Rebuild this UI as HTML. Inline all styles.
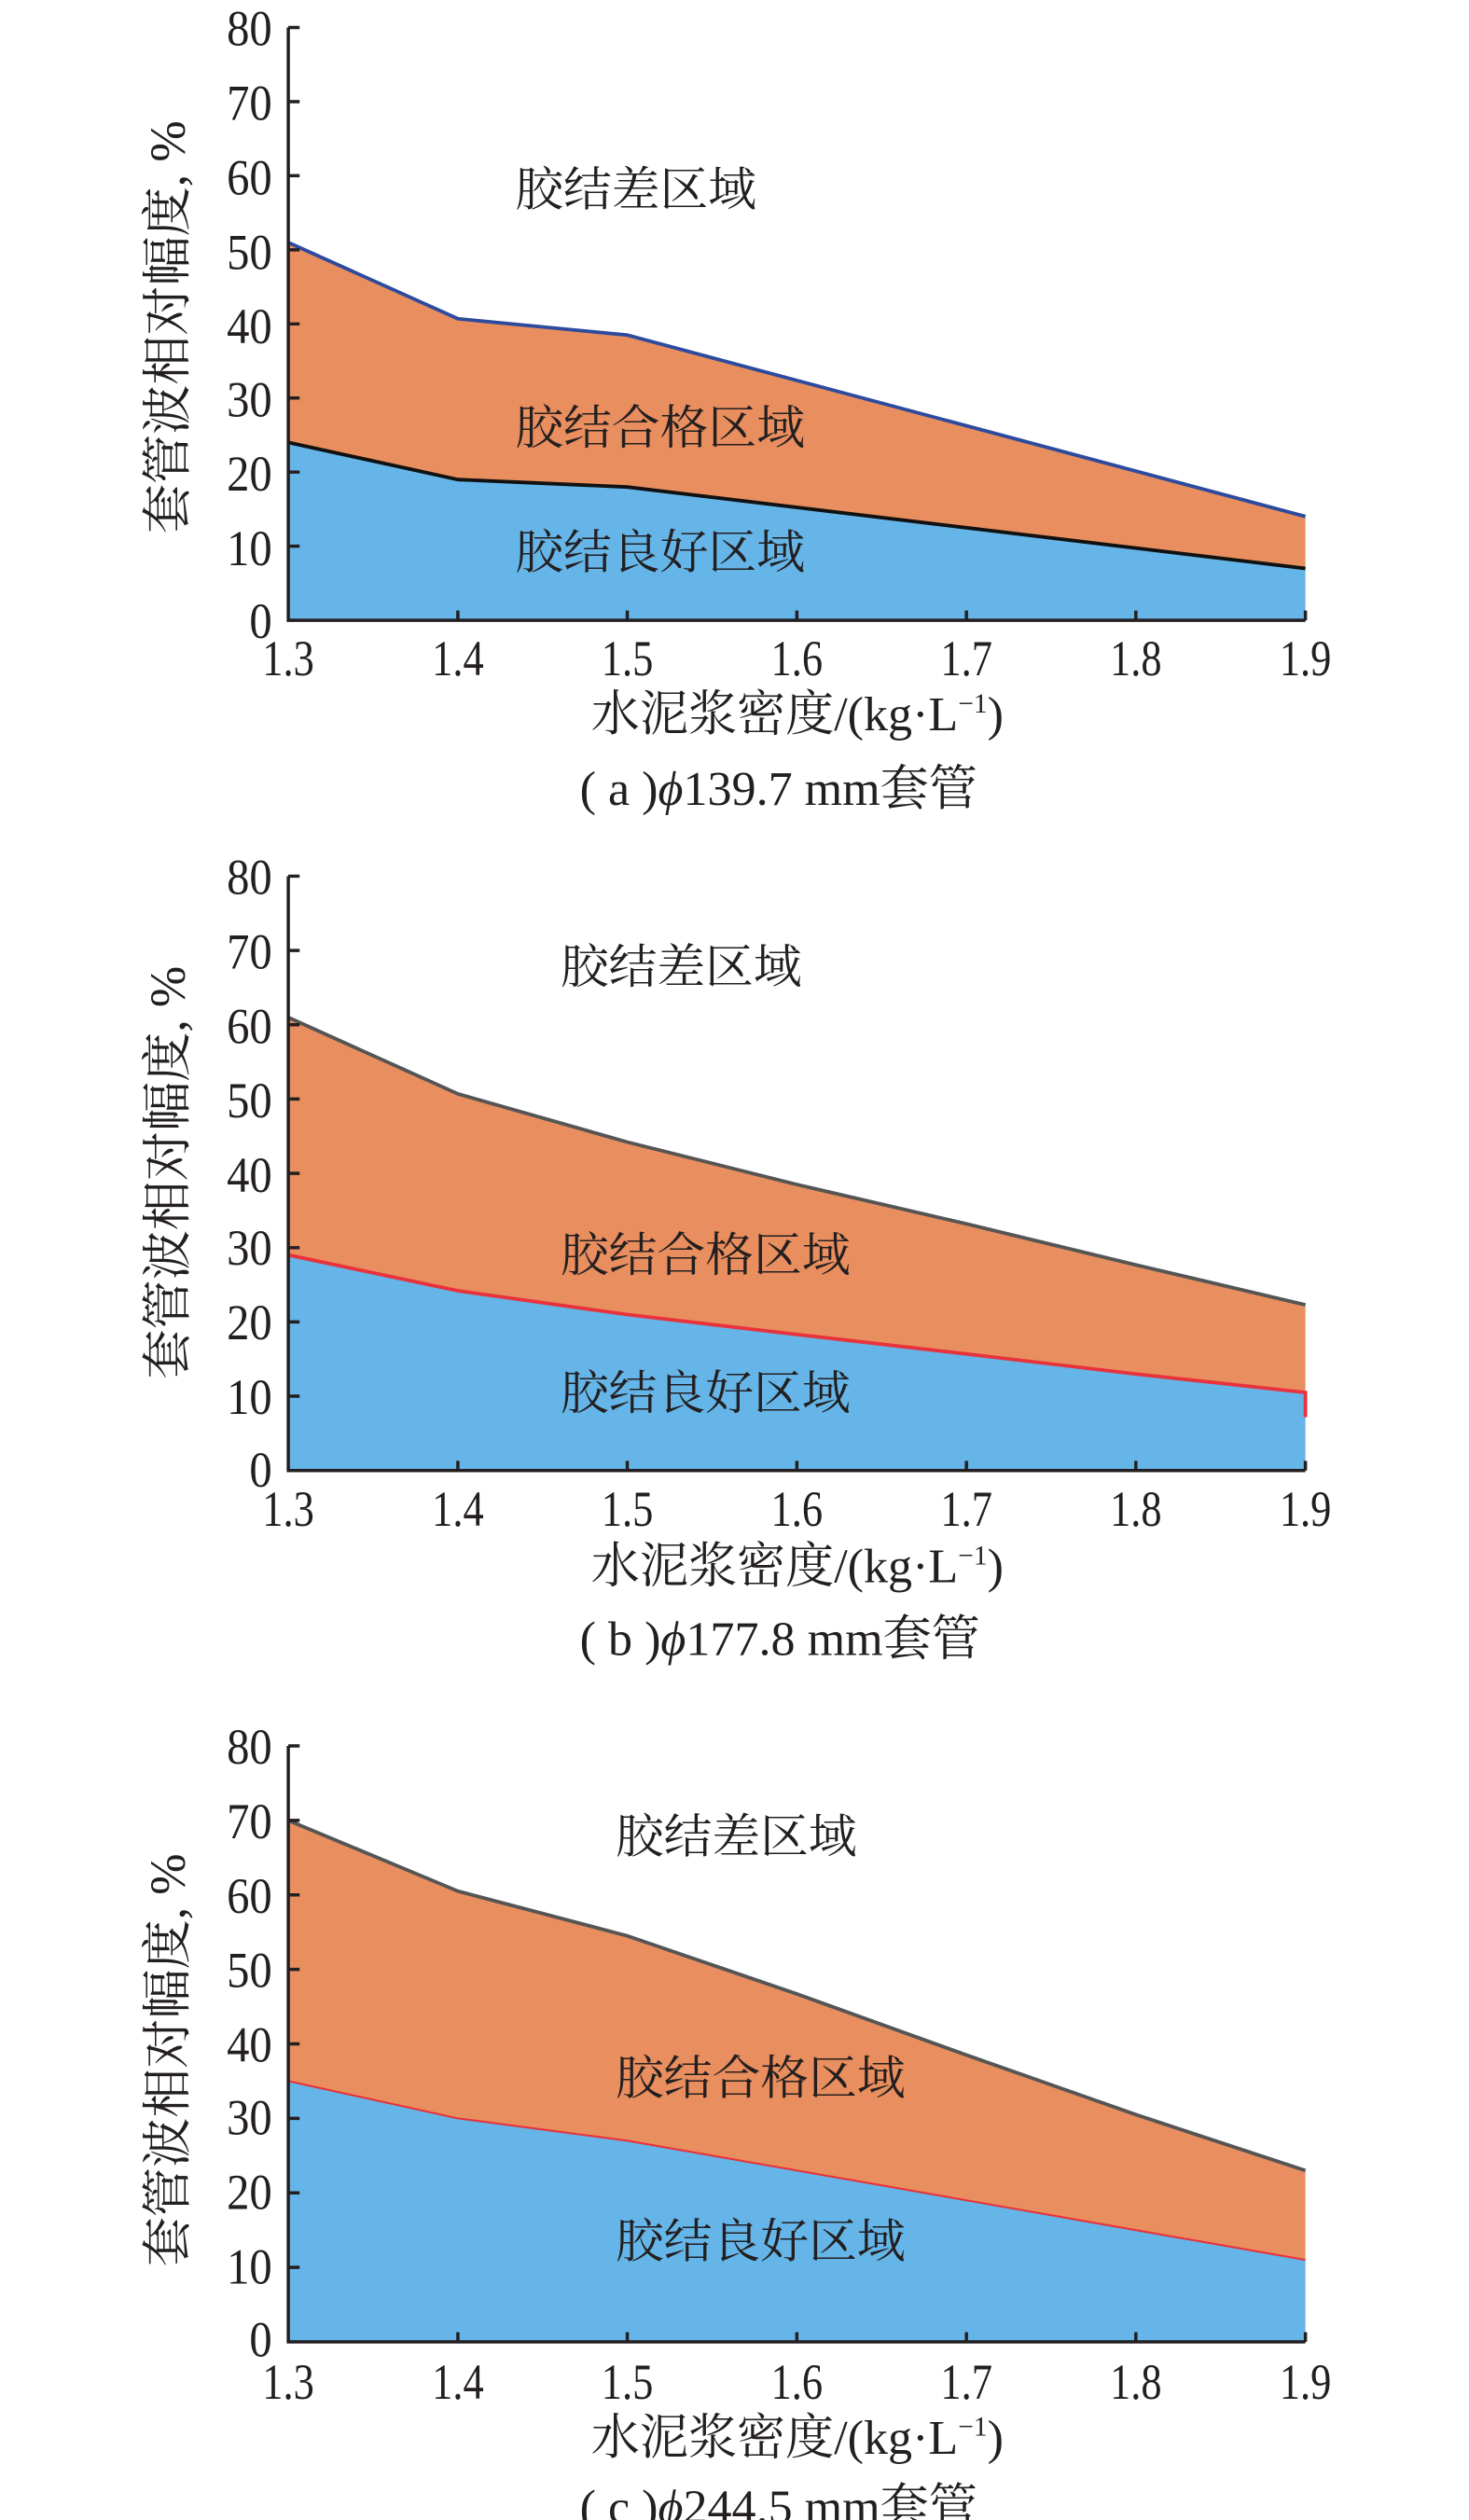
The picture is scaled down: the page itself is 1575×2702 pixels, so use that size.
<!DOCTYPE html>
<html><head><meta charset="utf-8"><style>html,body{margin:0;padding:0;background:#fff}svg{display:block}</style></head>
<body>
<svg width="1575" height="2702" viewBox="0 0 907 1556" preserveAspectRatio="none" xmlns="http://www.w3.org/2000/svg" font-family="'Liberation Serif','Noto Serif CJK SC',serif" fill="#231f20">
<defs>
<g id="xt" font-size="31" text-anchor="middle">
<text x="178" y="0" textLength="32" lengthAdjust="spacingAndGlyphs">1.3</text>
<text x="282.7" y="0" textLength="32" lengthAdjust="spacingAndGlyphs">1.4</text>
<text x="387.3" y="0" textLength="32" lengthAdjust="spacingAndGlyphs">1.5</text>
<text x="492" y="0" textLength="32" lengthAdjust="spacingAndGlyphs">1.6</text>
<text x="596.7" y="0" textLength="32" lengthAdjust="spacingAndGlyphs">1.7</text>
<text x="701.3" y="0" textLength="32" lengthAdjust="spacingAndGlyphs">1.8</text>
<text x="806" y="0" textLength="32" lengthAdjust="spacingAndGlyphs">1.9</text>
</g>
<g id="yt" font-size="31" text-anchor="end">
<text x="168" y="11" textLength="28" lengthAdjust="spacingAndGlyphs">80</text>
<text x="168" y="57" textLength="28" lengthAdjust="spacingAndGlyphs">70</text>
<text x="168" y="103" textLength="28" lengthAdjust="spacingAndGlyphs">60</text>
<text x="168" y="149" textLength="28" lengthAdjust="spacingAndGlyphs">50</text>
<text x="168" y="195" textLength="28" lengthAdjust="spacingAndGlyphs">40</text>
<text x="168" y="240" textLength="28" lengthAdjust="spacingAndGlyphs">30</text>
<text x="168" y="286" textLength="28" lengthAdjust="spacingAndGlyphs">20</text>
<text x="168" y="332" textLength="28" lengthAdjust="spacingAndGlyphs">10</text>
<text x="168" y="377" textLength="14" lengthAdjust="spacingAndGlyphs">0</text>
</g>
</defs>

<!-- Chart A -->
<polygon fill="#e98e5e" points="178,149.7 282.7,196.8 387.3,206.9 806,318.9 806,351 387.3,300.7 282.7,296.1 178,273.2"/>
<polygon fill="#65b5e8" points="178,273.2 282.7,296.1 387.3,300.7 806,351 806,383 178,383"/>
<polyline fill="none" stroke="#2d4b9e" stroke-width="2.2" points="178,149.7 282.7,196.8 387.3,206.9 806,318.9"/>
<polyline fill="none" stroke="#111" stroke-width="2.2" points="178,273.2 282.7,296.1 387.3,300.7 806,351"/>
<g stroke="#231f20" stroke-width="2" fill="none">
<path d="M178,17V383H806"/>
<path d="M178,17h7M178,62.75h7M178,108.5h7M178,154.25h7M178,200h7M178,245.75h7M178,291.5h7M178,337.25h7"/>
<path d="M282.7,383v-6M387.3,383v-6M492,383v-6M596.7,383v-6M701.3,383v-6M806,383v-6"/>
</g>
<use href="#yt" y="17"/>
<use href="#xt" y="417"/>
<text transform="translate(114,202) rotate(-90)" font-size="31" text-anchor="middle" textLength="255" lengthAdjust="spacingAndGlyphs">套管波相对幅度, %</text>
<g font-size="29"><text x="318" y="127" textLength="149" lengthAdjust="spacingAndGlyphs">胶结差区域</text>
<text x="318" y="274" textLength="179" lengthAdjust="spacingAndGlyphs">胶结合格区域</text>
<text x="318" y="351" textLength="179" lengthAdjust="spacingAndGlyphs">胶结良好区域</text></g>
<text x="365" y="451" font-size="30">水泥浆密度/(kg·L<tspan font-size="17" dy="-11">−1</tspan><tspan dy="11">)</tspan></text>
<text x="358" y="497" font-size="30">( a )<tspan font-style="italic">ϕ</tspan>139.7 mm套管</text>

<!-- Chart B -->
<polygon fill="#e98e5e" points="178,628.2 282.7,675.4 387.3,705.2 492,731.4 596.7,755.7 701.3,781 806,805.7 806,859.8 701.3,848.4 596.7,836 492,824 387.3,811.7 282.7,797 178,774.9"/>
<polygon fill="#65b5e8" points="178,774.9 282.7,797 387.3,811.7 492,824 596.7,836 701.3,848.4 806,859.8 806,908 178,908"/>
<polyline fill="none" stroke="#555" stroke-width="2.2" points="178,628.2 282.7,675.4 387.3,705.2 492,731.4 596.7,755.7 701.3,781 806,805.7"/>
<polyline fill="none" stroke="#e8323c" stroke-width="2.2" points="178,774.9 282.7,797 387.3,811.7 492,824 596.7,836 701.3,848.4 806,859.8 806,875"/>
<g stroke="#231f20" stroke-width="2" fill="none">
<path d="M178,541V908H806"/>
<path d="M178,541h7M178,586.9h7M178,632.75h7M178,678.6h7M178,724.5h7M178,770.4h7M178,816.25h7M178,862.1h7"/>
<path d="M282.7,908v-6M387.3,908v-6M492,908v-6M596.7,908v-6M701.3,908v-6M806,908v-6"/>
</g>
<use href="#yt" y="541"/>
<use href="#xt" y="942"/>
<text transform="translate(114,724) rotate(-90)" font-size="31" text-anchor="middle" textLength="255" lengthAdjust="spacingAndGlyphs">套管波相对幅度, %</text>
<g font-size="29"><text x="346" y="607" textLength="149" lengthAdjust="spacingAndGlyphs">胶结差区域</text>
<text x="346" y="785" textLength="179" lengthAdjust="spacingAndGlyphs">胶结合格区域</text>
<text x="346" y="870" textLength="179" lengthAdjust="spacingAndGlyphs">胶结良好区域</text></g>
<text x="365" y="977" font-size="30">水泥浆密度/(kg·L<tspan font-size="17" dy="-11">−1</tspan><tspan dy="11">)</tspan></text>
<text x="358" y="1022" font-size="30">( b )<tspan font-style="italic">ϕ</tspan>177.8 mm套管</text>

<!-- Chart C -->
<polygon fill="#e98e5e" points="178,1124 282.7,1167.7 387.3,1195.3 492,1231.2 596.7,1268.9 701.3,1305.7 806,1340.2 806,1395.4 701.3,1377 596.7,1358.6 492,1340.2 387.3,1321.8 282.7,1308 178,1285"/>
<polygon fill="#65b5e8" points="178,1285 282.7,1308 387.3,1321.8 492,1340.2 596.7,1358.6 701.3,1377 806,1395.4 806,1446 178,1446"/>
<polyline fill="none" stroke="#555" stroke-width="2.2" points="178,1124 282.7,1167.7 387.3,1195.3 492,1231.2 596.7,1268.9 701.3,1305.7 806,1340.2"/>
<polyline fill="none" stroke="#e8323c" stroke-width="1.2" points="178,1285 282.7,1308 387.3,1321.8 492,1340.2 596.7,1358.6 701.3,1377 806,1395.4"/>
<g stroke="#231f20" stroke-width="2" fill="none">
<path d="M178,1078V1446H806"/>
<path d="M178,1078h7M178,1124h7M178,1170h7M178,1216h7M178,1262h7M178,1308h7M178,1354h7M178,1400h7"/>
<path d="M282.7,1446v-6M387.3,1446v-6M492,1446v-6M596.7,1446v-6M701.3,1446v-6M806,1446v-6"/>
</g>
<use href="#yt" y="1078"/>
<use href="#xt" y="1481"/>
<text transform="translate(114,1272) rotate(-90)" font-size="31" text-anchor="middle" textLength="255" lengthAdjust="spacingAndGlyphs">套管波相对幅度, %</text>
<g font-size="29"><text x="380" y="1144" textLength="149" lengthAdjust="spacingAndGlyphs">胶结差区域</text>
<text x="380" y="1293" textLength="179" lengthAdjust="spacingAndGlyphs">胶结合格区域</text>
<text x="380" y="1394" textLength="179" lengthAdjust="spacingAndGlyphs">胶结良好区域</text></g>
<text x="365" y="1515" font-size="30">水泥浆密度/(kg·L<tspan font-size="17" dy="-11">−1</tspan><tspan dy="11">)</tspan></text>
<text x="358" y="1558" font-size="30">( c )<tspan font-style="italic">ϕ</tspan>244.5 mm套管</text>
</svg>
</body></html>
